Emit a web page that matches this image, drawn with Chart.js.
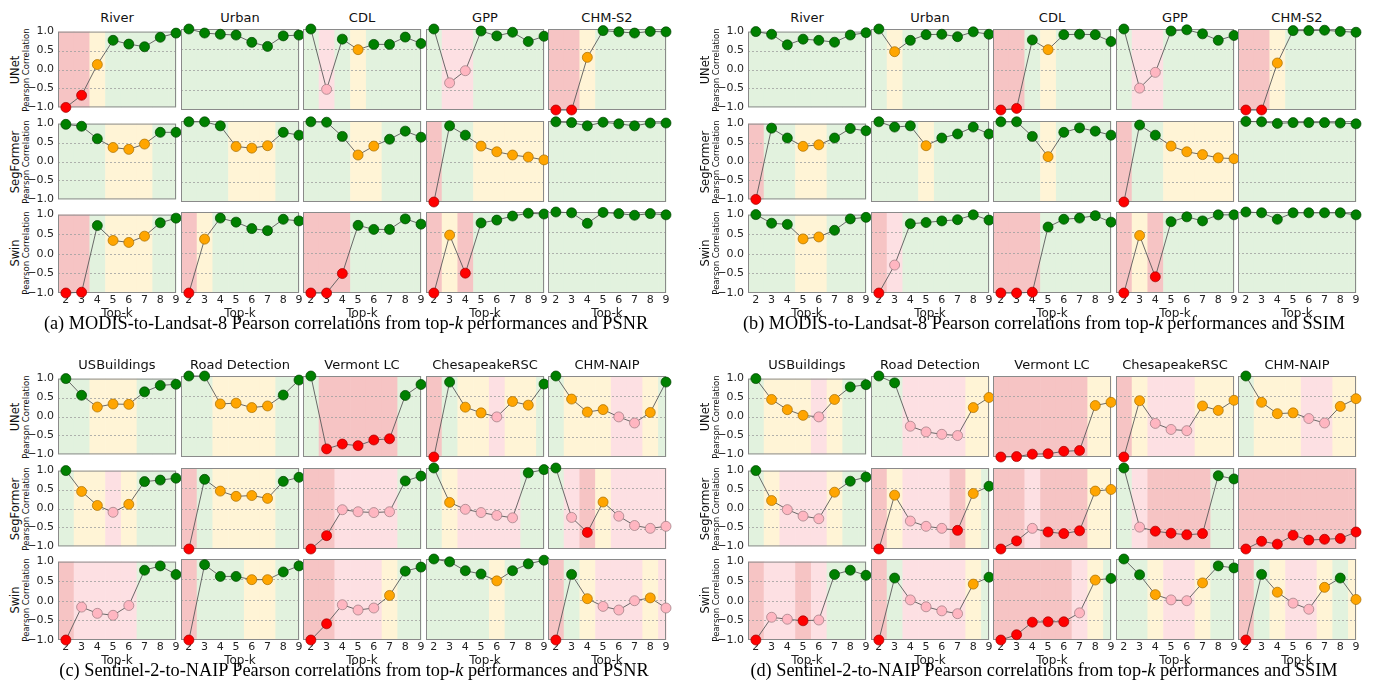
<!DOCTYPE html>
<html>
<head>
<meta charset="utf-8">
<script src="https://cdn.jsdelivr.net/npm/chart.js@4.4.1/dist/chart.umd.min.js"></script>
<style>
  body { margin: 0; background: #fff; width: 1385px; height: 692px; position: relative; overflow: hidden; }
  canvas { position: absolute; }
  .txt { position: absolute; white-space: nowrap; color: #111; font-family: 'DejaVu Sans', sans-serif; transform: translate(-50%, -50%); }
  .rot { transform: translate(-50%, -50%) rotate(-90deg); }
  .cap { font-family: 'Liberation Serif', 'Times New Roman', serif; font-size: 18.3px; color: #000; }
</style>
</head>
<body>
<script>
// top-k values on the x axis
const topK = [2, 3, 4, 5, 6, 7, 8, 9]
const modisTasks = ['River', 'Urban', 'CDL', 'GPP', 'CHM-S2']
const naipTasks = ['USBuildings', 'Road Detection', 'Vermont LC', 'ChesapeakeRSC', 'CHM-NAIP']
const models = ['UNet', 'SegFormer', 'Swin']

// (a) MODIS-to-Landsat-8, PSNR
const aUNet = [
  [-1.0, -0.68, 0.13, 0.77, 0.67, 0.6, 0.85, 0.96],
  [1.0, 0.9, 0.87, 0.85, 0.67, 0.57, 0.83, 0.85],
  [1.0, -0.49, 0.75, 0.49, 0.62, 0.62, 0.8, 0.64],
  [1.0, -0.33, -0.03, 0.95, 0.83, 0.92, 0.69, 0.82],
  [-1.0, -1.0, 0.3, 0.96, 0.93, 0.9, 0.94, 0.93],
]
const aSegFormer = [
  [0.98, 0.93, 0.6, 0.37, 0.32, 0.46, 0.77, 0.77],
  [0.98, 0.98, 0.88, 0.37, 0.33, 0.39, 0.72, 0.65],
  [0.98, 0.97, 0.62, 0.16, 0.38, 0.55, 0.75, 0.6],
  [-1.0, 0.88, 0.65, 0.38, 0.24, 0.16, 0.11, 0.04],
  [0.98, 0.96, 0.88, 0.97, 0.93, 0.88, 0.95, 0.95],
]
const aSwin = [
  [-1.0, -0.98, 0.72, 0.34, 0.29, 0.45, 0.79, 0.91],
  [-1.0, 0.33, 0.85, 0.75, 0.59, 0.54, 0.82, 0.78],
  [-1.0, -1.0, -0.52, 0.67, 0.57, 0.57, 0.83, 0.7],
  [-1.0, 0.43, -0.51, 0.73, 0.8, 0.9, 0.97, 0.95],
  [1.0, 0.98, 0.72, 0.99, 0.96, 0.92, 0.96, 0.93],
]

// (b) MODIS-to-Landsat-8, SSIM
const bUNet = [
  [1.0, 0.93, 0.65, 0.8, 0.77, 0.72, 0.91, 0.97],
  [1.0, 0.44, 0.72, 0.86, 0.87, 0.81, 0.93, 0.87],
  [-1.0, -0.96, 0.73, 0.49, 0.86, 0.87, 0.86, 0.69],
  [1.0, -0.46, -0.07, 0.95, 0.98, 0.88, 0.72, 0.84],
  [-1.0, -1.0, 0.16, 0.96, 0.96, 0.97, 0.94, 0.92],
]
const bSegFormer = [
  [-1.0, 0.88, 0.62, 0.4, 0.44, 0.62, 0.87, 0.81],
  [0.98, 0.85, 0.88, 0.39, 0.58, 0.68, 0.85, 0.68],
  [0.98, 0.98, 0.62, 0.12, 0.72, 0.83, 0.75, 0.65],
  [-1.0, 0.9, 0.65, 0.38, 0.24, 0.17, 0.09, 0.07],
  [0.99, 0.98, 0.94, 0.96, 0.96, 0.96, 0.95, 0.93],
]
const bSwin = [
  [1.0, 0.78, 0.75, 0.38, 0.43, 0.6, 0.89, 0.93],
  [-1.0, -0.31, 0.71, 0.74, 0.78, 0.81, 0.93, 0.8],
  [-1.0, -1.0, -0.98, 0.63, 0.82, 0.85, 0.91, 0.75],
  [-1.0, 0.42, -0.6, 0.76, 0.88, 0.78, 0.93, 0.93],
  [1.0, 0.98, 0.82, 0.98, 0.98, 0.98, 0.98, 0.93],
]

// (c) Sentinel-2-to-NAIP, PSNR
const cUNet = [
  [1.0, 0.56, 0.25, 0.33, 0.32, 0.65, 0.82, 0.85],
  [1.0, 1.0, 0.31, 0.33, 0.22, 0.26, 0.53, 0.9],
  [1.0, -0.8, -0.68, -0.72, -0.58, -0.55, 0.52, 0.79],
  [-1.0, 0.85, 0.23, 0.09, -0.01, 0.37, 0.28, 0.8],
  [1.0, 0.43, 0.11, 0.17, -0.01, -0.16, 0.1, 0.85],
]
const cSegFormer = [
  [1.0, 0.45, 0.08, -0.1, 0.11, 0.71, 0.75, 0.8],
  [-1.0, 0.72, 0.43, 0.3, 0.32, 0.25, 0.67, 0.77],
  [-1.0, -0.67, -0.03, -0.08, -0.1, -0.08, 0.68, 0.8],
  [1.0, 0.15, -0.02, -0.1, -0.17, -0.23, 0.88, 0.96],
  [1.0, -0.22, -0.59, 0.16, -0.19, -0.42, -0.49, -0.44],
]
const cSwin = [
  [-1.0, -0.16, -0.32, -0.37, -0.12, 0.78, 0.89, 0.67],
  [-1.0, 0.86, 0.57, 0.57, 0.49, 0.49, 0.68, 0.83],
  [-1.0, -0.6, -0.13, -0.26, -0.21, 0.1, 0.7, 0.8],
  [1.0, 0.93, 0.71, 0.63, 0.46, 0.71, 0.88, 0.97],
  [-1.0, 0.62, 0.02, -0.17, -0.26, -0.03, 0.04, -0.21],
]

// (d) Sentinel-2-to-NAIP, SSIM
const dUNet = [
  [1.0, 0.45, 0.18, 0.03, -0.01, 0.45, 0.78, 0.84],
  [1.0, 0.83, -0.24, -0.38, -0.44, -0.47, 0.22, 0.47],
  [-1.0, -0.99, -0.93, -0.92, -0.86, -0.84, 0.27, 0.35],
  [-1.0, 0.39, -0.17, -0.32, -0.35, 0.26, 0.15, 0.4],
  [1.0, 0.35, 0.07, 0.09, -0.05, -0.16, 0.25, 0.44],
]
const dSegFormer = [
  [1.0, 0.21, -0.03, -0.2, -0.27, 0.43, 0.72, 0.83],
  [-1.0, 0.33, -0.31, -0.44, -0.49, -0.54, 0.37, 0.55],
  [-1.0, -0.8, -0.49, -0.58, -0.62, -0.55, 0.43, 0.47],
  [1.0, -0.46, -0.56, -0.61, -0.65, -0.62, 0.81, 0.73],
  [-1.0, -0.81, -0.88, -0.66, -0.78, -0.76, -0.74, -0.58],
]
const dSwin = [
  [-1.0, -0.42, -0.47, -0.51, -0.49, 0.67, 0.78, 0.65],
  [-1.0, 0.53, -0.01, -0.18, -0.28, -0.35, 0.38, 0.55],
  [-1.0, -0.87, -0.56, -0.55, -0.55, -0.33, 0.48, 0.52],
  [1.0, 0.61, 0.12, -0.01, -0.03, 0.41, 0.83, 0.78],
  [-1.0, 0.62, 0.18, -0.09, -0.24, 0.3, 0.53, 0.0],
]

const panels = [
  { tasks: modisTasks, rows: [aUNet, aSegFormer, aSwin], dx: 0, dy: 0, capX: 346,
    caption: '(a) MODIS-to-Landsat-8 Pearson correlations from top-<i>k</i> performances and PSNR' },
  { tasks: modisTasks, rows: [bUNet, bSegFormer, bSwin], dx: 690, dy: 0, capX: 1044,
    caption: '(b) MODIS-to-Landsat-8 Pearson correlations from top-<i>k</i> performances and SSIM' },
  { tasks: naipTasks, rows: [cUNet, cSegFormer, cSwin], dx: 0, dy: 347, capX: 354,
    caption: '(c) Sentinel-2-to-NAIP Pearson correlations from top-<i>k</i> performances and PSNR' },
  { tasks: naipTasks, rows: [dUNet, dSegFormer, dSwin], dx: 690, dy: 347, capX: 1044,
    caption: '(d) Sentinel-2-to-NAIP Pearson correlations from top-<i>k</i> performances and SSIM' },
]

// red / pink / orange / green by correlation level
function level(v) {
  if (v < -0.5) return 0
  if (v < 0) return 1
  if (v < 0.5) return 2
  return 3
}
const bandFill = ['#f6c4c4', '#fde0e3', '#fff4d6', '#e2f2de']
const dotFill = ['#ff0000', '#ffb6c1', '#ffa500', '#008000']
const dotEdge = ['#a00000', '#9a7a80', '#a86e00', '#004400']

Chart.defaults.font.family = 'DejaVu Sans'
Chart.defaults.color = '#222'

// shaded bands behind each k, dotted grid and the frame
const bands = {
  id: 'bands',
  beforeDatasetsDraw(chart) {
    const { ctx, chartArea: a, scales: { x, y } } = chart
    const pts = chart.data.datasets[0].data
    ctx.save()
    pts.forEach(p => {
      const lo = Math.max(p.x - 0.5, x.min)
      const hi = Math.min(p.x + 0.5, x.max)
      const x0 = x.getPixelForValue(lo)
      const x1 = x.getPixelForValue(hi)
      ctx.fillStyle = bandFill[level(p.y)]
      ctx.fillRect(x0, a.top, x1 - x0 + 0.6, a.bottom - a.top)
    })
    ctx.strokeStyle = '#a0a0a0'
    ctx.lineWidth = 0.8
    ctx.setLineDash([2, 2])
    ;[-0.5, 0, 0.5].forEach(v => {
      const py = Math.round(y.getPixelForValue(v)) + 0.5
      ctx.beginPath()
      ctx.moveTo(a.left, py)
      ctx.lineTo(a.right, py)
      ctx.stroke()
    })
    ctx.setLineDash([])
    ctx.strokeStyle = '#8a8a8a'
    ctx.lineWidth = 1
    ctx.strokeRect(a.left + 0.5, a.top + 0.5, a.width - 1, a.height - 1)
    ctx.restore()
  }
}

const colLeft = [58, 181, 303, 426, 548]
const rowTop = [29, 121, 212]
const PW = 118, PH = 81

function fmt(v) {
  const s = Math.abs(v).toFixed(1)
  return v < 0 ? '\u2212' + s : s
}

function addText(html, x, y, cls, size) {
  const d = document.createElement('div')
  d.className = 'txt ' + cls
  d.style.left = x + 'px'
  d.style.top = y + 'px'
  if (size) d.style.fontSize = size + 'px'
  d.innerHTML = html
  document.body.appendChild(d)
}

panels.forEach(p => {
  p.tasks.forEach((t, c) => {
    addText(t, p.dx + colLeft[c] + PW / 2, p.dy + 17, '', 13)
  })
  models.forEach((m, r) => {
    const cy = p.dy + rowTop[r] + PH / 2
    addText(m, p.dx + 15, cy, 'rot', 11.5)
    addText('Pearson Correlation', p.dx + 26, cy, 'rot', 8.5)
    p.rows[r].forEach((vals, c) => {
      const first = c === 0
      const last = r === 2
      const ml = first ? 40 : 8
      const mb = last ? 28 : 8
      const cv = document.createElement('canvas')
      cv.width = ml + PW + 8
      cv.height = 8 + PH + mb
      cv.style.left = (p.dx + colLeft[c] - ml) + 'px'
      cv.style.top = (p.dy + rowTop[r] - 8) + 'px'
      document.body.appendChild(cv)
      const lv = vals.map(level)
      new Chart(cv.getContext('2d'), {
        type: 'line',
        data: {
          datasets: [{
            data: topK.map((k, i) => ({ x: k, y: vals[i] })),
            borderColor: '#5a5a5a',
            borderWidth: 0.9,
            pointRadius: 5,
            pointHoverRadius: 5,
            pointBackgroundColor: lv.map(l => dotFill[l]),
            pointBorderColor: lv.map(l => dotEdge[l]),
            pointBorderWidth: 0.7,
            clip: false,
          }],
        },
        options: {
          responsive: false,
          animation: false,
          devicePixelRatio: 1,
          events: [],
          layout: { padding: { left: first ? 0 : 8, right: 8, top: 8, bottom: last ? 0 : 8 } },
          plugins: { legend: { display: false }, tooltip: { enabled: false } },
          scales: {
            x: {
              type: 'linear', min: 1.5, max: 9, display: last,
              grid: { display: false, drawTicks: false }, border: { display: false },
              ticks: { stepSize: 1, includeBounds: false, autoSkip: false, maxRotation: 0, padding: 1, font: { size: 11 } },
              title: { display: true, text: 'Top-k', font: { size: 12 }, padding: 0 },
              afterFit(s) { s.height = last ? 28 : 0 },
            },
            y: {
              min: -1, max: 1, display: first,
              grid: { display: false, drawTicks: false }, border: { display: false },
              ticks: { stepSize: 0.5, callback: fmt, padding: 4, font: { size: 11 } },
              afterFit(s) { s.width = first ? 40 : 0 },
            },
          },
        },
        plugins: [bands],
      })
    })
  })
  addText(p.caption, p.capX, p.dy + 323, 'cap')
})
</script>
</body>
</html>
